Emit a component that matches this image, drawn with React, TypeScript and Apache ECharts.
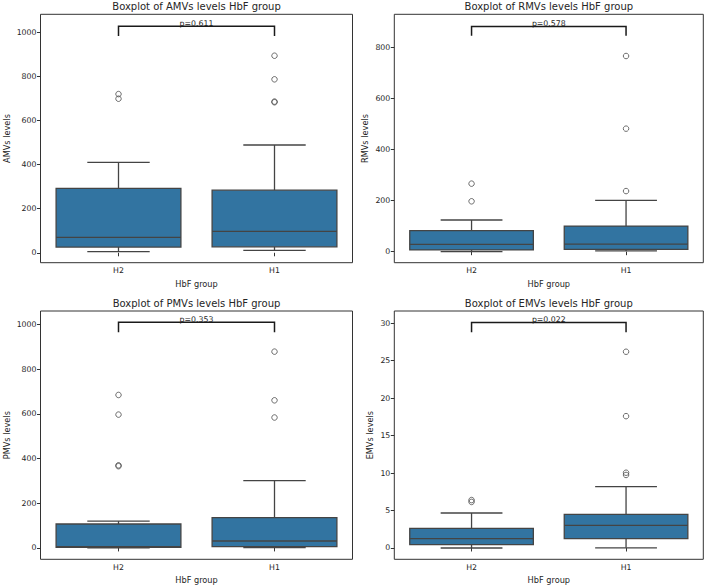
import React, { useEffect, useRef } from "react";
import * as echarts from "echarts";

// Group labels on every x axis
const groups = ["H2", "H1"];

// Box summaries per group: [lower whisker, Q1, median, Q3, upper whisker]
const amvsBoxes = [
  [5, 26, 70, 292, 410],
  [11, 27, 97, 284, 489],
];
const rmvsBoxes = [
  [0, 7, 29, 82, 124],
  [3, 9, 30, 100, 201],
];
const pmvsBoxes = [
  [0, 2, 6, 107, 120],
  [1, 6, 31, 136, 301],
];
const emvsBoxes = [
  [0, 0.44, 1.24, 2.63, 4.67],
  [0.02, 1.24, 3.03, 4.5, 8.19],
];

// Points beyond the whiskers, per group
const amvsOutliers = [
  [720, 699],
  [894, 787, 686, 683],
];
const rmvsOutliers = [
  [266, 197],
  [765, 481, 237],
];
const pmvsOutliers = [
  [685, 597, 370, 366],
  [879, 661, 584],
];
const emvsOutliers = [
  [6.15, 6.4],
  [26.2, 17.6, 10.05, 9.75],
];

// Significance bracket: [foot, top] heights and label
const amvsBracket = [983, 1028];
const rmvsBracket = [844, 880];
const pmvsBracket = [966, 1011];
const emvsBracket = [28.8, 30.1];
const pLabels = ["p=0.611", "p=0.578", "p=0.353", "p=0.022"];

// Tick labels on the y axes
const amvsTicks = [0, 200, 400, 600, 800, 1000];
const rmvsTicks = [0, 200, 400, 600, 800];
const pmvsTicks = [0, 200, 400, 600, 800, 1000];
const emvsTicks = [0, 5, 10, 15, 20, 25, 30];

const titles = [
  "Boxplot of AMVs levels HbF group",
  "Boxplot of RMVs levels HbF group",
  "Boxplot of PMVs levels HbF group",
  "Boxplot of EMVs levels HbF group",
];
const yNames = ["AMVs levels", "RMVs levels", "PMVs levels", "EMVs levels"];

const FONT = "DejaVu Sans";
const TEXT = "#262626";
const LINE = "#444444";
const BOX_FILL = "#3274a1";

const panels = [
  { boxes: amvsBoxes, outliers: amvsOutliers, bracket: amvsBracket, ticks: amvsTicks, range: [-45, 1082], grid: { left: 40.5, top: 14.3, width: 312, height: 248.4 }, nameGap: 30 },
  { boxes: rmvsBoxes, outliers: rmvsOutliers, bracket: rmvsBracket, ticks: rmvsTicks, range: [-43, 928], grid: { left: 394.3, top: 14.3, width: 309, height: 248.4 }, nameGap: 25 },
  { boxes: pmvsBoxes, outliers: pmvsOutliers, bracket: pmvsBracket, ticks: pmvsTicks, range: [-51, 1061], grid: { left: 40.5, top: 311, width: 312, height: 248.3 }, nameGap: 30 },
  { boxes: emvsBoxes, outliers: emvsOutliers, bracket: emvsBracket, ticks: emvsTicks, range: [-1.51, 31.64], grid: { left: 394.3, top: 311, width: 309, height: 248.3 }, nameGap: 20 },
];

function renderBox(params: any, api: any) {
  const x = api.value(0);
  const [cx, yLw] = api.coord([x, api.value(1)]);
  const yQ1 = api.coord([x, api.value(2)])[1];
  const yMed = api.coord([x, api.value(3)])[1];
  const yQ3 = api.coord([x, api.value(4)])[1];
  const yUw = api.coord([x, api.value(5)])[1];
  const bw = api.size([1, 0])[0] * 0.8;
  const cap = bw / 4;
  const ls = { stroke: LINE, lineWidth: 1.3, fill: null };
  return {
    type: "group",
    children: [
      { type: "line", shape: { x1: cx, y1: yQ1, x2: cx, y2: yLw }, style: ls },
      { type: "line", shape: { x1: cx, y1: yQ3, x2: cx, y2: yUw }, style: ls },
      { type: "line", shape: { x1: cx - cap, y1: yLw, x2: cx + cap, y2: yLw }, style: ls },
      { type: "line", shape: { x1: cx - cap, y1: yUw, x2: cx + cap, y2: yUw }, style: ls },
      {
        type: "rect",
        shape: { x: cx - bw / 2, y: yQ3, width: bw, height: yQ1 - yQ3 },
        style: { fill: BOX_FILL, stroke: LINE, lineWidth: 1.3 },
      },
      { type: "line", shape: { x1: cx - bw / 2, y1: yMed, x2: cx + bw / 2, y2: yMed }, style: ls },
    ],
  };
}

function makeBracketRenderer(label: string) {
  return (params: any, api: any) => {
    const [x0, yFoot] = api.coord([api.value(0), api.value(2)]);
    const [x1, yTop] = api.coord([api.value(1), api.value(3)]);
    return {
      type: "group",
      children: [
        {
          type: "polyline",
          shape: { points: [[x0, yFoot], [x0, yTop], [x1, yTop], [x1, yFoot]] },
          style: { stroke: "#1a1a1a", lineWidth: 1.5, fill: null },
        },
        {
          type: "text",
          style: {
            text: label,
            x: (x0 + x1) / 2,
            y: yTop + 1.2,
            align: "center",
            verticalAlign: "bottom",
            fontSize: 7.8,
            fontFamily: FONT,
            fill: TEXT,
          },
        },
      ],
    };
  };
}

export default function App() {
  const ref = useRef<HTMLDivElement>(null);

  useEffect(() => {
    if (!ref.current) return;
    const chart = echarts.init(ref.current, null, { renderer: "svg" });

    const title: any[] = [];
    const grid: any[] = [];
    const xAxis: any[] = [];
    const yAxis: any[] = [];
    const series: any[] = [];

    panels.forEach((p, i) => {
      title.push({
        text: titles[i],
        left: p.grid.left + p.grid.width / 2,
        top: p.grid.top - 13,
        textAlign: "center",
        padding: 0,
        textStyle: { fontFamily: FONT, fontSize: 10, fontWeight: "normal", color: TEXT },
      });
      grid.push({
        ...p.grid,
        show: true,
        borderColor: "#333333",
        borderWidth: 1,
        backgroundColor: "transparent",
        containLabel: false,
      });
      xAxis.push({
        type: "category",
        gridIndex: i,
        data: groups,
        boundaryGap: true,
        axisLine: { show: false },
        axisTick: { show: true, alignWithLabel: true, length: 3.5, lineStyle: { color: "#333333" } },
        axisLabel: { fontFamily: FONT, fontSize: 7.8, color: TEXT, margin: 4 },
        splitLine: { show: false },
        name: "HbF group",
        nameLocation: "middle",
        nameGap: 17,
        nameTextStyle: { fontFamily: FONT, fontSize: 8.2, color: TEXT },
      });
      yAxis.push({
        type: "value",
        gridIndex: i,
        min: p.range[0],
        max: p.range[1],
        axisLine: { show: false },
        splitLine: { show: false },
        axisTick: { show: true, length: 3.5, lineStyle: { color: "#333333" }, customValues: p.ticks },
        axisLabel: {
          fontFamily: FONT,
          fontSize: 7.8,
          color: TEXT,
          margin: 4,
          customValues: p.ticks,
          formatter: (v: number) => String(v),
        },
        name: yNames[i],
        nameLocation: "middle",
        nameGap: p.nameGap,
        nameTextStyle: { fontFamily: FONT, fontSize: 8.2, color: TEXT },
      });
      series.push({
        type: "custom",
        xAxisIndex: i,
        yAxisIndex: i,
        renderItem: renderBox,
        encode: { x: 0, y: [1, 2, 3, 4, 5] },
        data: p.boxes.map((b, g) => [g, ...b]),
        z: 2,
      });
      const pts: number[][] = [];
      p.outliers.forEach((vals, g) => vals.forEach((v) => pts.push([g, v])));
      series.push({
        type: "scatter",
        xAxisIndex: i,
        yAxisIndex: i,
        data: pts,
        symbol: "circle",
        symbolSize: 5.5,
        itemStyle: { color: "transparent", borderColor: "#4a4a4a", borderWidth: 1 },
        z: 3,
      });
      series.push({
        type: "custom",
        xAxisIndex: i,
        yAxisIndex: i,
        renderItem: makeBracketRenderer(pLabels[i]),
        encode: { x: [0, 1], y: [2, 3] },
        data: [[0, 1, p.bracket[0], p.bracket[1]]],
        z: 4,
      });
    });

    chart.setOption({
      animation: false,
      backgroundColor: "#ffffff",
      title,
      grid,
      xAxis,
      yAxis,
      series,
    });

    return () => chart.dispose();
  }, []);

  return (
    <div
      ref={ref}
      style={{ position: "fixed", left: 0, top: 0, width: 709, height: 587 }}
    />
  );
}
